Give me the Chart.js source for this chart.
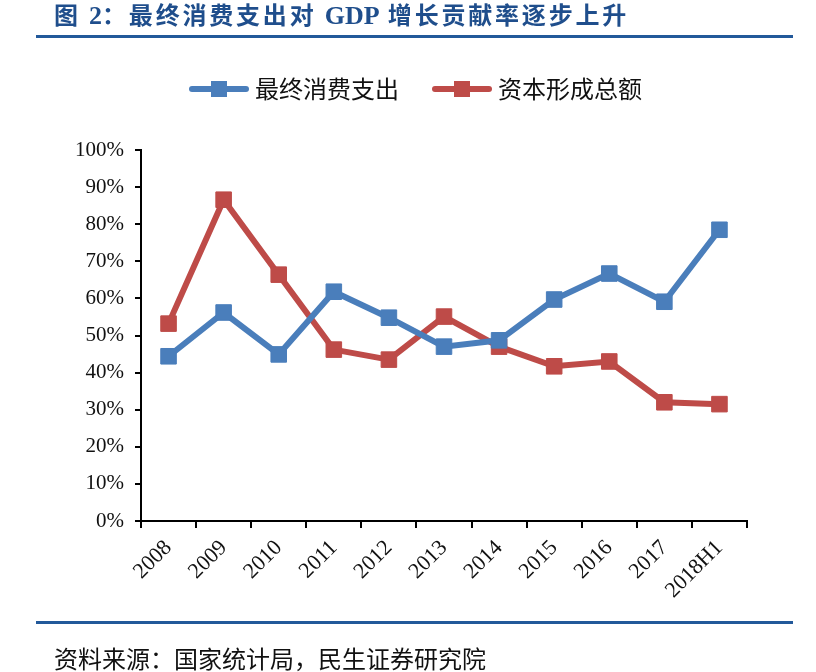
<!DOCTYPE html>
<html>
<head>
<meta charset="utf-8">
<script src="https://cdn.jsdelivr.net/npm/chart.js@4.4.1/dist/chart.umd.min.js"></script>
<style>
  html, body { margin: 0; padding: 0; background: #fff; }
  #wrap { position: relative; width: 816px; height: 672px; overflow: hidden; }
  #title { position: absolute; left: 54px; top: -4px; font: bold 24px "Noto Sans CJK SC", "Liberation Serif", serif; letter-spacing: 2.8px; color: #1f4e8c; white-space: nowrap; }
  #title .en { font-family: "Liberation Serif", serif; font-size: 26px; letter-spacing: 0; }
  .rule { position: absolute; left: 36px; width: 757px; height: 3px; background: #22599a; }
  #footer { position: absolute; left: 54px; top: 640px; font: 24px "Noto Sans CJK SC", serif; color: #111; white-space: nowrap; }
  #chartBox { position: absolute; left: 0; top: 0; width: 816px; height: 672px; }
</style>
</head>
<body>
<div id="wrap">
  <div id="chartBox"><canvas id="c" width="816" height="672"></canvas></div>
  <div id="title">图 <span class="en">2</span>：最终消费支出对 <span class="en">GDP</span> 增长贡献率逐步上升</div>
  <div class="rule" style="top:35px"></div>
  <div class="rule" style="top:621px"></div>
  <div id="footer">资料来源：国家统计局，民生证券研究院</div>
</div>
<script>
// 数据
const years = ['2008', '2009', '2010', '2011', '2012', '2013', '2014', '2015', '2016', '2017', '2018H1'];
const consumption = [44.4, 56.2, 44.9, 61.8, 54.8, 47.0, 48.7, 59.7, 66.7, 59.1, 78.5]; // 最终消费支出
const capital = [53.2, 86.6, 66.4, 46.2, 43.5, 55.1, 47.0, 41.7, 43.0, 32.0, 31.5];     // 资本形成总额

const blue = '#4a7ebb';
const red = '#be4b48';

// Legende: Linie mit Quadrat
function legendIcon(color) {
    const cv = document.createElement('canvas');
    cv.width = 62; cv.height = 18;
    const g = cv.getContext('2d');
    g.strokeStyle = color;
    g.lineWidth = 6;
    g.lineCap = 'round';
    g.beginPath(); g.moveTo(4, 9); g.lineTo(58, 9); g.stroke();
    g.fillStyle = color;
    g.fillRect(23, 1, 16, 16);
    return cv;
}
const icons = [legendIcon(blue), legendIcon(red)];

const serif = 'Liberation Serif';

// mehr Abstand unter der Legende, Legende etwas nach rechts
const legendGap = {
    id: 'legendGap',
    beforeInit(chart) {
        const fit = chart.legend.fit;
        chart.legend.fit = function () {
            fit.bind(chart.legend)();
            this.height += 39;
        };
    },
    afterLayout(chart) {
        chart.legend.left += 25;
        chart.legend.right += 25;
    }
};

new Chart(document.getElementById('c'), {
    type: 'line',
    data: {
        labels: years,
        datasets: [{
            label: '最终消费支出',
            data: consumption,
            borderColor: blue,
            backgroundColor: blue,
            borderWidth: 6,
            pointStyle: 'rect',
            pointRadius: 11,
            pointBorderWidth: 1,
            tension: 0
        }, {
            label: '资本形成总额',
            data: capital,
            borderColor: red,
            backgroundColor: red,
            borderWidth: 6,
            pointStyle: 'rect',
            pointRadius: 11,
            pointBorderWidth: 1,
            tension: 0
        }]
    },
    options: {
        responsive: false,
        animation: false,
        layout: { padding: { left: 40, right: 69, top: 38, bottom: 61 } },
        plugins: {
            tooltip: { enabled: false },
            legend: {
                position: 'top',
                labels: {
                    usePointStyle: true,
                    pointStyleWidth: 48,
                    padding: 39,
                    color: '#111',
                    font: { family: 'Noto Sans CJK SC', size: 24 },
                    generateLabels: (chart) => Chart.defaults.plugins.legend.labels.generateLabels(chart)
                        .map((l, i) => Object.assign(l, { pointStyle: icons[i] }))
                }
            }
        },
        scales: {
            x: {
                offset: true,
                grid: { offset: true, drawOnChartArea: false, color: '#000', lineWidth: 2, tickLength: 7 },
                border: { color: '#000', width: 2 },
                ticks: {
                    color: '#111', maxRotation: 45, minRotation: 45, padding: 7,
                    font: { family: serif, size: 22 }
                },
                afterFit: (s) => { s.height = 90; }
            },
            y: {
                min: 0, max: 100,
                grid: { drawOnChartArea: false, color: '#000', lineWidth: 2, tickLength: 6 },
                border: { color: '#000', width: 2 },
                ticks: {
                    stepSize: 10, color: '#111', padding: 11,
                    font: { family: serif, size: 21 },
                    callback: (v) => v + '%'
                },
                afterFit: (s) => { s.width = 101; }
            }
        }
    },
    plugins: [legendGap]
});
</script>
</body>
</html>
